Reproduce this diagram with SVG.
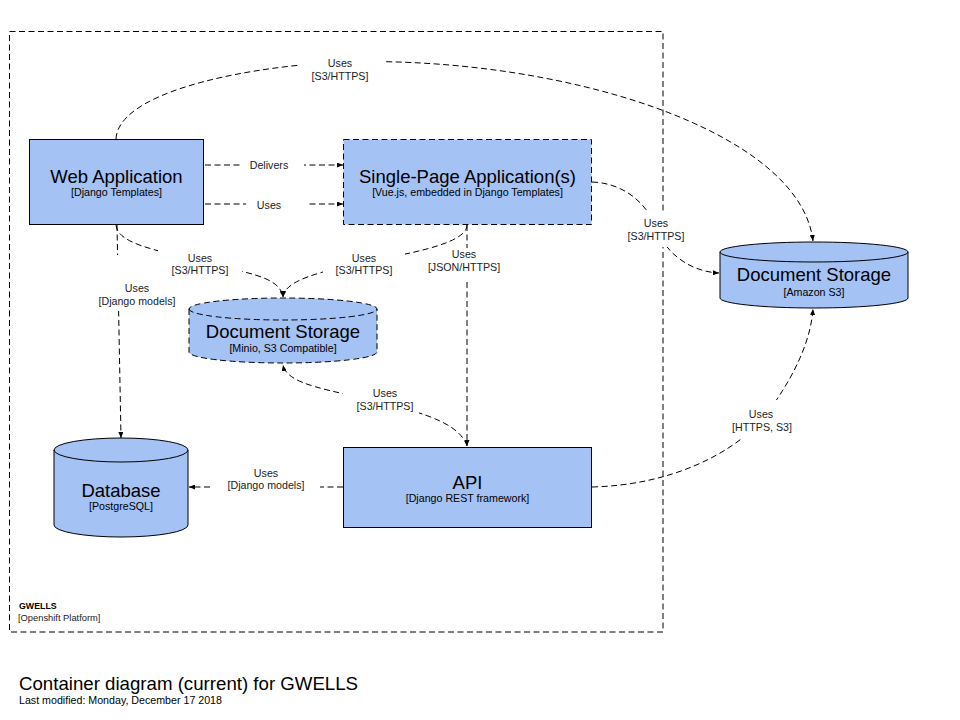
<svg xmlns="http://www.w3.org/2000/svg" width="960" height="720" viewBox="0 0 960 720">
<style>
text{font-family:"Liberation Sans",Arial,sans-serif;fill:#000}
.t{font-size:18.5px;text-anchor:middle}
.s{font-size:10.67px;text-anchor:middle}
.l{font-size:10.67px;text-anchor:middle;fill:#222}
.node{fill:#a4c2f4;stroke:#000;stroke-width:1}
.dn{stroke-dasharray:6,3.5}
.c{fill:none;stroke:#000;stroke-width:1;stroke-dasharray:6,3.5}
.bg{fill:#fff}
</style>
<defs>
<marker id="a" viewBox="0 0 6 5" refX="6" refY="2.5" markerWidth="6" markerHeight="5" orient="auto" markerUnits="userSpaceOnUse"><path d="M0,0 L6,2.5 L0,5 z" fill="#000"/></marker>
</defs>
<rect width="960" height="720" fill="#fff"/>

<g id="boundary">
<rect x="9.5" y="31.5" width="653.5" height="600.5" fill="none" stroke="#000" stroke-width="1" stroke-dasharray="6,3.5"/>
<text x="19" y="609" style="font-size:8.8px;font-weight:bold">GWELLS</text>
<text x="18" y="621" style="font-size:9.33px;fill:#222">[Openshift Platform]</text>
</g>

<g id="web-app">
<rect class="node" x="29.5" y="139.5" width="174" height="85"/>
<text class="t" x="116.5" y="183">Web Application</text>
<text class="s" x="116.5" y="196">[Django Templates]</text>
</g>

<g id="spa">
<rect class="node dn" x="343.5" y="139.5" width="248" height="85"/>
<text class="t" x="467.5" y="183">Single-Page Application(s)</text>
<text class="s" x="467.5" y="196">[Vue.js, embedded in Django Templates]</text>
</g>

<g id="minio">
<path class="node dn" d="M189,309 L189,352 A94,11 0 0 0 377,352 L377,309 A94,11 0 0 0 189,309 Z"/>
<path class="dn" d="M189,309 A94,11 0 0 0 377,309" fill="none" stroke="#000"/>
<text class="t" x="283" y="338">Document Storage</text>
<text class="s" x="283" y="352">[Minio, S3 Compatible]</text>
</g>

<g id="s3">
<path class="node" d="M720,252 L720,298 A94,10 0 0 0 908,298 L908,252 A94,10 0 0 0 720,252 Z"/>
<path d="M720,252 A94,10 0 0 0 908,252" fill="none" stroke="#000"/>
<text class="t" x="814" y="281">Document Storage</text>
<text class="s" x="814" y="296">[Amazon S3]</text>
</g>

<g id="database">
<path class="node" d="M54,450 L54,525 A67,12 0 0 0 188,525 L188,450 A67,12 0 0 0 54,450 Z"/>
<path d="M54,450 A67,12 0 0 0 188,450" fill="none" stroke="#000"/>
<text class="t" x="121" y="497">Database</text>
<text class="s" x="121" y="510">[PostgreSQL]</text>
</g>

<g id="api">
<rect class="node" x="343.5" y="447.5" width="248" height="80"/>
<text class="t" x="467.5" y="489">API</text>
<text class="s" x="467.5" y="502">[Django REST framework]</text>
</g>

<g id="connectors">
<path class="c" marker-end="url(#a)" d="M116,139 C118,95 230,68 340,62 C560,55 800,130 813,241"/>
<path class="c" marker-end="url(#a)" d="M205,165 L343,165"/>
<path class="c" marker-end="url(#a)" d="M205,204 L343,204"/>
<path class="c" marker-end="url(#a)" d="M592,182 C625,183 648,205 656,228 C668,258 695,272 719,273"/>
<path class="c" marker-end="url(#a)" d="M116,225 C118,245 160,250 200,262 C240,272 280,275 283,297"/>
<path class="c" marker-end="url(#a)" d="M467,225 C467,245 400,255 364,262 C320,272 285,280 283,297"/>
<path class="c" marker-end="url(#a)" d="M467,225 L467,446"/>
<path class="c" marker-end="url(#a)" d="M117,225 L121,438"/>
<path class="c" marker-end="url(#a)" d="M343,487 L189,487"/>
<path class="c" marker-end="url(#a)" d="M467,446 C460,425 430,415 385,403 C330,390 287,385 283,365"/>
<path class="c" marker-end="url(#a)" d="M592,487 C670,485 730,455 762,420 C785,390 810,350 813,309"/>
</g>

<g id="labels">
<rect class="bg" x="300" y="55" width="83" height="29"/>
<text class="l" x="340" y="67">Uses</text>
<text class="l" x="340" y="80">[S3/HTTPS]</text>

<rect class="bg" x="241" y="158" width="63" height="14"/>
<text class="l" x="269" y="169">Delivers</text>

<rect class="bg" x="246" y="197" width="60" height="14"/>
<text class="l" x="269" y="209">Uses</text>

<rect class="bg" x="626" y="211" width="60" height="36"/>
<text class="l" x="656" y="227">Uses</text>
<text class="l" x="656" y="240">[S3/HTTPS]</text>

<rect class="bg" x="158" y="250" width="84" height="29"/>
<text class="l" x="200" y="262">Uses</text>
<text class="l" x="200" y="274">[S3/HTTPS]</text>

<rect class="bg" x="323" y="250" width="82" height="29"/>
<text class="l" x="364" y="262">Uses</text>
<text class="l" x="364" y="274">[S3/HTTPS]</text>

<rect class="bg" x="450" y="248" width="30" height="12"/>
<rect class="bg" x="428" y="260" width="72" height="20"/>
<text class="l" x="464" y="258">Uses</text>
<text class="l" x="464" y="271">[JSON/HTTPS]</text>

<rect class="bg" x="97" y="280" width="80" height="31"/>
<rect class="bg" x="110" y="255" width="14" height="25"/>
<text class="l" x="137" y="292">Uses</text>
<text class="l" x="137" y="305">[Django models]</text>

<rect class="bg" x="212" y="466" width="108" height="28"/>
<text class="l" x="266" y="477">Uses</text>
<text class="l" x="266" y="489">[Django models]</text>

<rect class="bg" x="343" y="385" width="76" height="32"/>
<text class="l" x="385" y="397">Uses</text>
<text class="l" x="385" y="410">[S3/HTTPS]</text>

<rect class="bg" x="731" y="400" width="62" height="38"/>
<text class="l" x="761" y="418">Uses</text>
<text class="l" x="762" y="431">[HTTPS, S3]</text>
</g>

<g id="title">
<text x="19" y="690" style="font-size:18.67px">Container diagram (current) for GWELLS</text>
<text x="19" y="704" style="font-size:10.67px">Last modified: Monday, December 17 2018</text>
</g>
</svg>
